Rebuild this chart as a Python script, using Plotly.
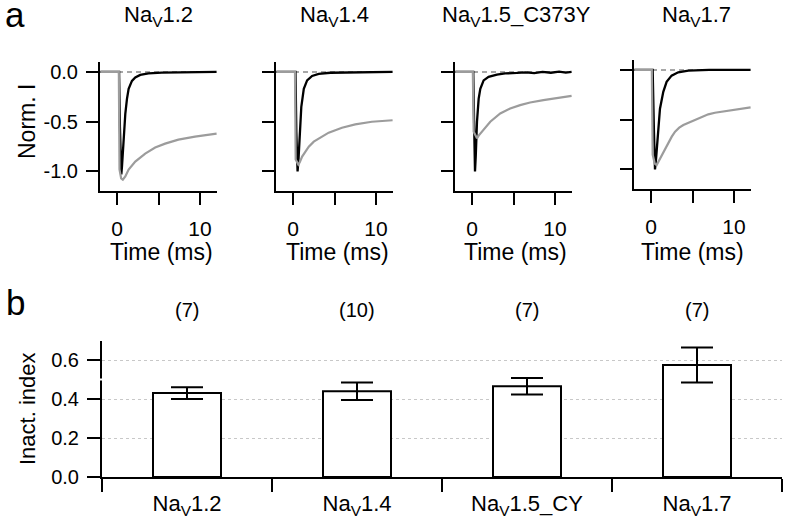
import plotly.graph_objects as go

W, H = 789, 526
FONT = "Liberation Sans, Arial, Helvetica, sans-serif"

# ---------------- data: panel a (normalized currents) ----------------
panel_titles = ["Na<sub>V</sub>1.2", "Na<sub>V</sub>1.4", "Na<sub>V</sub>1.5_C373Y", "Na<sub>V</sub>1.7"]

t_black_12 = [-2, 0.25, 0.35, 0.45, 0.52, 0.6, 0.8, 1.0, 1.2, 1.4, 1.8, 2.2, 2.8, 3.8, 5.4, 8, 12]
i_black_12 = [0, 0, -0.55, -0.97, -1.03, -0.95, -0.67, -0.42, -0.27, -0.17, -0.09, -0.055, -0.03, -0.015, -0.006, -0.002, 0]
t_gray_12 = [-2, 0.22, 0.3, 0.5, 0.7, 1.0, 1.4, 2.2, 3.4, 4.6, 5.8, 7.4, 9.4, 12]
i_gray_12 = [0, 0, -0.98, -1.07, -1.083, -1.05, -0.98, -0.9, -0.82, -0.76, -0.72, -0.68, -0.65, -0.62]

t_black_14 = [-2, 0.3, 0.4, 0.5, 0.55, 0.65, 0.8, 1.0, 1.3, 1.7, 2.3, 3.1, 4.5, 7, 12]
i_black_14 = [0, 0, -0.6, -0.97, -1.0, -0.9, -0.63, -0.35, -0.17, -0.085, -0.04, -0.02, -0.008, -0.003, 0]
t_gray_14 = [-2, 0.24, 0.32, 0.5, 0.64, 0.8, 1.1, 1.5, 1.9, 2.5, 3.1, 4.3, 5.9, 7.5, 9.5, 12]
i_gray_14 = [0, 0, -0.88, -0.92, -0.93, -0.91, -0.85, -0.8, -0.75, -0.7, -0.67, -0.61, -0.56, -0.527, -0.5, -0.485]

t_black_15 = [-2, 0.15, 0.25, 0.36, 0.45, 0.6, 0.8, 1.0, 1.4, 2.0, 3.0, 4.0, 5.4, 6.5, 7.5, 8.5, 9.5, 10.5, 11.3, 12]
i_black_15 = [0, 0, -0.5, -1.0, -0.85, -0.5, -0.27, -0.17, -0.085, -0.05, -0.027, -0.015, -0.01, -0.004, -0.012, 0.0, -0.008, 0.003, -0.006, 0.0]
t_gray_15 = [-2, 0.1, 0.2, 0.5, 0.6, 0.8, 1.4, 2.2, 3.4, 4.6, 5.8, 7.0, 8.6, 10.2, 12]
i_gray_15 = [0, 0, -0.6, -0.66, -0.667, -0.64, -0.583, -0.5, -0.417, -0.367, -0.333, -0.307, -0.283, -0.26, -0.24]

t_black_17 = [-2, 0.2, 0.35, 0.48, 0.6, 0.8, 1.08, 1.48, 1.88, 2.48, 3.28, 4.5, 7, 12]
i_black_17 = [0, 0, -0.6, -1.0, -0.9, -0.69, -0.39, -0.22, -0.12, -0.057, -0.023, -0.007, 0, 0]
t_gray_17 = [-2, 0.1, 0.2, 0.45, 0.68, 0.9, 1.28, 1.7, 2.08, 2.5, 2.9, 3.4, 3.9, 4.5, 5.3, 6.1, 6.9, 7.7, 8.5, 9.3, 10.1, 11, 12]
i_gray_17 = [0, 0, -0.85, -0.94, -0.955, -0.92, -0.856, -0.79, -0.73, -0.67, -0.62, -0.58, -0.553, -0.53, -0.503, -0.47, -0.446, -0.43, -0.42, -0.405, -0.396, -0.385, -0.376]

time_ticks = [0, 5, 10]
time_ticktext = ["0", " ", "10"]
norm_ticks = [0, -0.5, -1.0]
norm_ticktext = ["0.0", "-0.5", "-1.0"]

# ---------------- data: panel b (inactivation index) ----------------
channels = ["Na<sub>V</sub>1.2", "Na<sub>V</sub>1.4", "Na<sub>V</sub>1.5_CY", "Na<sub>V</sub>1.7"]
inact_mean = [0.432, 0.441, 0.467, 0.576]
inact_err = [0.03, 0.045, 0.042, 0.09]
n_cells = ["(7)", "(10)", "(7)", "(7)"]
inact_ticks = [0, 0.2, 0.4, 0.6]
inact_ticktext = ["0.0", "0.2", "0.4", "0.6"]

GRAY = "#9c9c9c"


def dx(a, b):
    return [a / W, b / W]


def dy(top, bottom):
    return [1 - bottom / H, 1 - top / H]


fig = go.Figure()

traces_a = [
    (t_black_12, i_black_12, t_gray_12, i_gray_12),
    (t_black_14, i_black_14, t_gray_14, i_gray_14),
    (t_black_15, i_black_15, t_gray_15, i_gray_15),
    (t_black_17, i_black_17, t_gray_17, i_gray_17),
]
x_px = [(100, 217), (276, 393), (455, 572), (634, 751)]
y_px = [(62, 191), (62, 191), (62, 191), (60, 189)]
title_cx = [158, 334, 516, 696]
xlabel_cx = [161, 337, 515, 692]

layout = dict(
    template="none",
    width=W, height=H, autosize=False,
    margin=dict(l=0, r=0, t=0, b=0, pad=0, autoexpand=False),
    paper_bgcolor="white", plot_bgcolor="white",
    showlegend=False,
    font=dict(family=FONT, color="black", size=20),
)

annotations = []
shapes = []

for k, (tb, ib, tg, ig) in enumerate(traces_a):
    n = k + 1
    xa = "x" if n == 1 else f"x{n}"
    ya = "y" if n == 1 else f"y{n}"
    fig.add_trace(go.Scatter(x=tb, y=ib, mode="lines", line=dict(color="black", width=2.3),
                             xaxis=xa, yaxis=ya, hoverinfo="skip"))
    fig.add_trace(go.Scatter(x=tg, y=ig, mode="lines", line=dict(color=GRAY, width=2.2),
                             xaxis=xa, yaxis=ya, hoverinfo="skip"))
    layout["xaxis" if n == 1 else f"xaxis{n}"] = dict(
        domain=dx(*x_px[k]), anchor=ya, range=[-2.05, 12.05], automargin=False,
        showline=True, linecolor="black", linewidth=2, mirror=False,
        ticks="outside", ticklen=12, tickwidth=2, tickcolor="black",
        tickvals=time_ticks, ticktext=time_ticktext, tickfont=dict(size=21),
        ticklabelstandoff=6,
        showgrid=False, zeroline=False, fixedrange=True,
    )
    layout["yaxis" if n == 1 else f"yaxis{n}"] = dict(
        domain=dy(*y_px[k]), anchor=xa, range=[-1.196, 0.1], automargin=False,
        showline=True, linecolor="black", linewidth=2,
        ticks="outside", ticklen=12, tickwidth=2, tickcolor="black",
        tickvals=norm_ticks, ticktext=norm_ticktext, tickfont=dict(size=20),
        showticklabels=(n == 1), ticklabelstandoff=4,
        showgrid=False, zeroline=False, fixedrange=True,
    )
    shapes.append(dict(type="line", xref=f"{xa} domain", yref=ya, x0=0, x1=1, y0=0, y1=0,
                       line=dict(color="#8a8a8a", width=1.5, dash="5px,4px"), layer="below"))
    annotations.append(dict(text=panel_titles[k], x=title_cx[k] / W, y=1 - 16 / H, xref="paper", yref="paper",
                            showarrow=False, font=dict(size=22), xanchor="center", yanchor="middle"))
    annotations.append(dict(text="Time (ms)", x=xlabel_cx[k] / W, y=1 - 252 / H, xref="paper", yref="paper",
                            showarrow=False, font=dict(size=23), xanchor="center", yanchor="middle"))

annotations.append(dict(text="Norm. I", x=27 / W, y=1 - 122 / H, xref="paper", yref="paper", textangle=-90,
                        showarrow=False, font=dict(size=23), xanchor="center", yanchor="middle"))

# ---------------- panel b ----------------
fig.add_trace(go.Bar(
    x=channels, y=inact_mean, width=0.4,
    marker=dict(color="white", line=dict(color="black", width=2)),
    error_y=dict(type="data", array=inact_err, visible=True, color="black", thickness=2, width=16),
    xaxis="x5", yaxis="y5", hoverinfo="skip",
))

layout["xaxis5"] = dict(
    domain=dx(102, 782), anchor="y5", type="category", range=[-0.5, 3.5], automargin=False,
    tickvals=channels, ticktext=channels, tickson="boundaries",
    showline=True, linecolor="black", linewidth=2,
    ticks="outside", ticklen=13, tickwidth=2, tickcolor="black",
    tickfont=dict(size=22), ticklabelstandoff=6,
    showgrid=False, zeroline=False, fixedrange=True,
)
layout["yaxis5"] = dict(
    domain=dy(341, 477), anchor="x5", range=[0, 0.70], automargin=False,
    tickvals=inact_ticks, ticktext=inact_ticktext,
    showline=True, linecolor="black", linewidth=2,
    ticks="outside", ticklen=13, tickwidth=2, tickcolor="black",
    tickfont=dict(size=20), ticklabelstandoff=4,
    showgrid=True, gridcolor="#c8c8c8", griddash="dot", gridwidth=1,
    zeroline=False, fixedrange=True,
)
# small break in the y-axis line of panel b
shapes.append(dict(type="rect", xref="paper", yref="paper",
                   x0=99 / W, x1=105 / W, y0=1 - 380.5 / H, y1=1 - 378.5 / H,
                   fillcolor="white", line=dict(width=0), layer="above"))

for k, lab in enumerate(n_cells):
    annotations.append(dict(text=lab, x=channels[k], y=1 - 310 / H, xref="x5", yref="paper",
                            showarrow=False, font=dict(size=20), xanchor="center", yanchor="middle"))
annotations.append(dict(text="Inact. index", x=27 / W, y=1 - 409 / H, xref="paper", yref="paper", textangle=-90,
                        showarrow=False, font=dict(size=22), xanchor="center", yanchor="middle"))

# panel letters
annotations.append(dict(text="a", x=15 / W, y=1 - 14 / H, xref="paper", yref="paper",
                        showarrow=False, font=dict(size=35), xanchor="center", yanchor="middle"))
annotations.append(dict(text="b", x=15 / W, y=1 - 302 / H, xref="paper", yref="paper",
                        showarrow=False, font=dict(size=35), xanchor="center", yanchor="middle"))

layout["annotations"] = annotations
layout["shapes"] = shapes
fig.update_layout(**layout)

fig.write_html(
    "out.html",
    config={"displayModeBar": False, "staticPlot": True},
    post_script="document.body.style.margin='0';document.body.style.padding='0';document.body.style.overflow='hidden';",
)
